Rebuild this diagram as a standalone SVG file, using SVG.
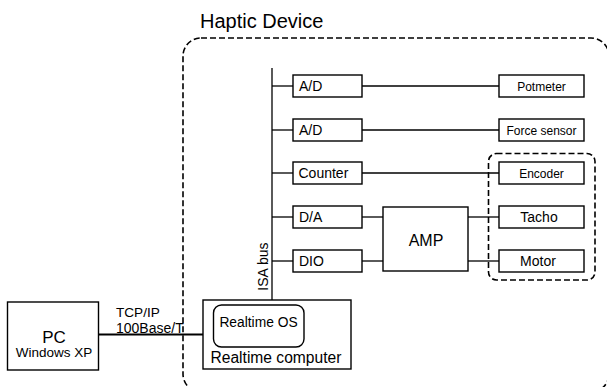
<svg xmlns="http://www.w3.org/2000/svg" width="607" height="387" viewBox="0 0 607 387">
  <style>
    text { font-family: "Liberation Sans", Arial, sans-serif; fill: #000; }
    .box { fill: #fff; stroke: #000; stroke-width: 1.4; }
    .dash { fill: none; stroke: #000; stroke-width: 1.6; stroke-dasharray: 6 3; }
    .wire { fill: none; stroke: #000; stroke-width: 1.3; }
    .lbl { font-size: 14px; }
    .small { font-size: 12px; text-anchor: middle; }
    .mid { font-size: 14px; text-anchor: middle; }
  </style>

  <!-- device boundary -->
  <g id="haptic-device">
    <rect class="dash" x="183" y="38" width="426" height="354" rx="18"/>
    <text x="200" y="28" style="font-size:20px">Haptic Device</text>
  </g>
  <g id="actuator-group">
    <rect class="dash" x="488.5" y="153.5" width="106.5" height="126.5" rx="8"/>
  </g>

  <!-- connectors -->
  <g id="connectors">
    <line class="wire" x1="272" y1="68" x2="272" y2="300"/>
    <line class="wire" x1="272" y1="86" x2="293" y2="86"/>
    <line class="wire" x1="272" y1="130" x2="293" y2="130"/>
    <line class="wire" x1="272" y1="173" x2="293" y2="173"/>
    <line class="wire" x1="272" y1="217" x2="293" y2="217"/>
    <line class="wire" x1="272" y1="261" x2="293" y2="261"/>
    <line class="wire" x1="362" y1="86" x2="499" y2="86"/>
    <line class="wire" x1="362" y1="130" x2="499" y2="130"/>
    <line class="wire" x1="362" y1="173" x2="499" y2="173"/>
    <line class="wire" x1="362" y1="217" x2="383" y2="217"/>
    <line class="wire" x1="362" y1="261" x2="383" y2="261"/>
    <line class="wire" x1="468" y1="217" x2="499" y2="217"/>
    <line class="wire" x1="468" y1="261" x2="499" y2="261"/>
    <line x1="98" y1="334.5" x2="203" y2="334.5" stroke="#000" stroke-width="2"/>
    <text x="268" y="266.5" class="mid" transform="rotate(-90 268 266.5)">ISA bus</text>
    <text x="116" y="316.5" style="font-size:13.6px">TCP/IP</text>
    <text x="116" y="333" style="font-size:14px">100Base/T</text>
  </g>

  <!-- interface cards -->
  <g id="ad1"><rect class="box" x="293" y="75" width="69" height="22"/><text class="lbl" x="299" y="91">A/D</text></g>
  <g id="ad2"><rect class="box" x="293" y="119" width="69" height="22"/><text class="lbl" x="299" y="135">A/D</text></g>
  <g id="counter"><rect class="box" x="293" y="162" width="69" height="22"/><text class="lbl" x="298.5" y="178">Counter</text></g>
  <g id="da"><rect class="box" x="293" y="206" width="69" height="22"/><text class="lbl" x="299" y="222">D/A</text></g>
  <g id="dio"><rect class="box" x="293" y="250" width="69" height="22"/><text class="lbl" x="299" y="266">DIO</text></g>

  <!-- amplifier -->
  <g id="amp"><rect class="box" x="383" y="207" width="85" height="64"/><text x="426" y="246" style="font-size:16px" text-anchor="middle">AMP</text></g>

  <!-- sensors and actuator -->
  <g id="potmeter"><rect class="box" x="499" y="75" width="85" height="22"/><text class="small" x="541.5" y="90.5">Potmeter</text></g>
  <g id="force-sensor"><rect class="box" x="499" y="119" width="85" height="22"/><text class="small" x="541.5" y="134.5">Force sensor</text></g>
  <g id="encoder"><rect class="box" x="499" y="162" width="85" height="22"/><text class="small" x="541.5" y="177.5">Encoder</text></g>
  <g id="tacho"><rect class="box" x="499" y="206" width="85" height="22"/><text class="mid" x="539" y="222">Tacho</text></g>
  <g id="motor"><rect class="box" x="499" y="250" width="85" height="22"/><text class="mid" x="538" y="266">Motor</text></g>

  <!-- computers -->
  <g id="realtime-computer">
    <rect class="box" x="203" y="300" width="148" height="69"/>
    <rect class="box" x="213.5" y="305" width="90.5" height="42" rx="8"/>
    <text x="258.5" y="327" style="font-size:13.8px" text-anchor="middle">Realtime OS</text>
    <text x="210.5" y="363" style="font-size:15.6px">Realtime computer</text>
  </g>
  <g id="pc">
    <rect class="box" x="7.5" y="302" width="91" height="68"/>
    <text x="54" y="342.5" style="font-size:17px" text-anchor="middle">PC</text>
    <text x="54" y="357" style="font-size:13.5px" text-anchor="middle">Windows XP</text>
  </g>
</svg>
